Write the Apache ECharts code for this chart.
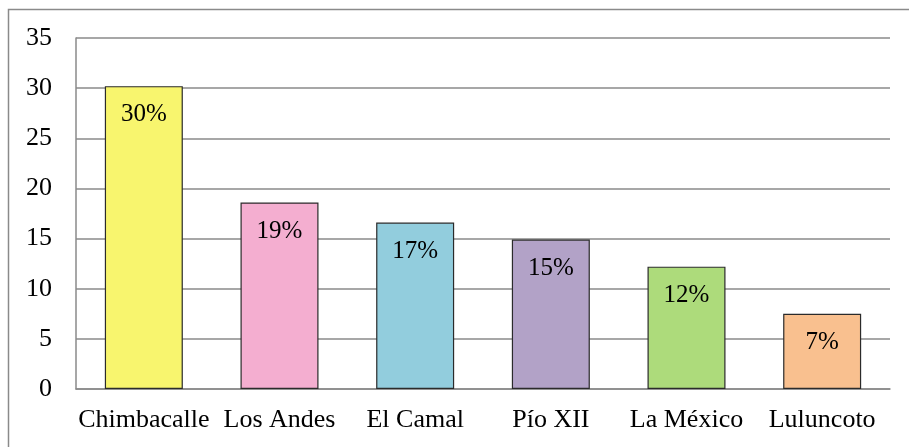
<!DOCTYPE html>
<html>
<head>
<meta charset="utf-8">
<script src="https://cdn.jsdelivr.net/npm/echarts@6/dist/echarts.min.js"></script>
<style>
  html, body { margin: 0; padding: 0; background: #fff; }
  #chart { width: 909px; height: 447px; }
</style>
</head>
<body>
<div id="chart"></div>
<script>
var barrios = ['Chimbacalle', 'Los Andes', 'El Camal', 'Pío XII', 'La México', 'Luluncoto'];
var valores = [30.2, 18.6, 16.6, 14.9, 12.2, 7.5];
var etiquetas = ['30%', '19%', '17%', '15%', '12%', '7%'];
var colores = ['#F8F56E', '#F4AED0', '#92CDDD', '#B2A2C7', '#ADDB7B', '#F9C08F'];

var chart = echarts.init(document.getElementById('chart'));

var option = {
    backgroundColor: '#fff',
    animation: false,
    textStyle: { fontFamily: 'Liberation Serif' },
    graphic: [{
        type: 'rect',
        shape: { x: 8.5, y: 9.5, width: 1000, height: 600 },
        style: { fill: 'none', stroke: '#8a8a8a', lineWidth: 1.5 },
        silent: true
    }],
    grid: { left: 76, right: 19, top: 38, bottom: 58 },
    xAxis: {
        type: 'category',
        data: barrios,
        axisLine: { lineStyle: { color: '#8a8a8a', width: 1.5 } },
        axisTick: { show: false },
        axisLabel: { color: '#000', fontSize: 26, margin: 18, interval: 0, fontFamily: 'Liberation Serif' }
    },
    yAxis: {
        type: 'value',
        min: 0,
        max: 35,
        interval: 5,
        axisLine: { show: true, lineStyle: { color: '#8a8a8a', width: 1.5 } },
        axisTick: { show: false },
        splitLine: { lineStyle: { color: '#8a8a8a', width: 1.5 } },
        axisLabel: { color: '#000', fontSize: 26, margin: 24, fontFamily: 'Liberation Serif' }
    },
    series: [{
        type: 'bar',
        data: valores.map(function (v, i) {
            return { value: v, itemStyle: { color: colores[i] } };
        }),
        barWidth: 78,
        itemStyle: { borderColor: '#2b2b2b', borderWidth: 1.2 },
        label: {
            show: true,
            position: 'insideTop',
            distance: 16,
            color: '#000',
            fontSize: 25,
            fontFamily: 'Liberation Serif',
            formatter: function (p) { return etiquetas[p.dataIndex]; }
        }
    }]
};

chart.setOption(option);
</script>
</body>
</html>
